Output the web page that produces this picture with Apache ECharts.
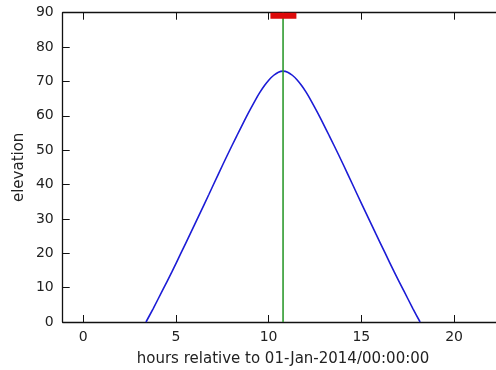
<!DOCTYPE html>
<html><head><meta charset="utf-8">
<script src="https://cdn.jsdelivr.net/npm/echarts@6/dist/echarts.min.js"></script>
<style>html,body{margin:0;padding:0;background:#fff}#c{width:496px;height:370px}</style>
</head><body><div id="c"></div>
<script>
// Sun elevation vs hours
var hours = [3.39, 3.78, 4.28, 4.78, 5.28, 5.78, 6.28, 6.78, 7.28, 7.78, 8.28, 8.78, 9.28, 9.53, 9.78, 10.03, 10.28, 10.53, 10.78,
             11.03, 11.28, 11.53, 11.78, 12.03, 12.28, 12.78, 13.28, 13.78, 14.28, 14.78, 15.28, 15.78, 16.28, 16.78, 17.28, 17.78, 18.17];
var elevation = [0, 3.9, 9.2, 14.5, 20.1, 25.7, 31.4, 37.1, 42.9, 48.6, 54.1, 59.5, 64.5, 66.8, 68.8, 70.5, 71.8, 72.7, 73.0,
                 72.7, 71.8, 70.5, 68.8, 66.8, 64.5, 59.5, 54.1, 48.6, 42.9, 37.1, 31.4, 25.7, 20.1, 14.5, 9.2, 3.9, 0];
var noonX = [10.78, 10.78];
var noonY = [0, 90];
var barX = [10.1, 11.5];
var barY = [89.1, 89.1];
var xTicks = [0, 5, 10, 15, 20];
var xMin = -1.1, xMax = 22.66;
var yMin = 0, yMax = 90, yStep = 10;
var xTitle = 'hours relative to 01-Jan-2014/00:00:00';
var yTitle = 'elevation';

function pairs(xs, ys) { return xs.map(function (x, i) { return [x, ys[i]]; }); }

var font = 'DejaVu Sans';
var axisLine = { show: true, onZero: false, lineStyle: { color: '#111', width: 1.3 } };
var tick = { show: true, inside: true, length: 7, lineStyle: { color: '#111', width: 1 } };

var chart = echarts.init(document.getElementById('c'), null, { renderer: 'canvas' });
chart.setOption({
  animation: false,
  backgroundColor: '#fff',
  grid: { left: 62.7, top: 12.7, width: 440.7, height: 309.3, containLabel: false, outerBoundsMode: 'none' },
  xAxis: [{
    type: 'value', min: xMin, max: xMax, position: 'bottom',
    axisLine: axisLine,
    axisTick: Object.assign({ customValues: xTicks }, tick),
    axisLabel: { customValues: xTicks, color: '#222', fontFamily: font, fontSize: 14, margin: 8 },
    splitLine: { show: false },
    name: xTitle, nameLocation: 'middle', nameGap: 30, nameMoveOverlap: false,
    nameTextStyle: { color: '#222', fontFamily: font, fontSize: 15 }
  }, {
    type: 'value', min: xMin, max: xMax, position: 'top',
    axisLine: axisLine,
    axisTick: Object.assign({ customValues: xTicks }, tick),
    axisLabel: { show: false },
    splitLine: { show: false }
  }],
  yAxis: [{
    type: 'value', min: yMin, max: yMax, interval: yStep,
    axisLine: axisLine,
    axisTick: tick,
    axisLabel: { color: '#222', fontFamily: font, fontSize: 14, margin: 9 },
    splitLine: { show: false },
    name: yTitle, nameLocation: 'middle', nameGap: 36, nameRotate: 90, nameMoveOverlap: false,
    nameTextStyle: { color: '#222', fontFamily: font, fontSize: 15 }
  }],
  series: [{
    type: 'line', data: pairs(hours, elevation), showSymbol: false, symbol: 'none',
    lineStyle: { color: '#1c1cd6', width: 1.6 }, smooth: 0.2, z: 2
  }, {
    type: 'line', data: pairs(noonX, noonY), showSymbol: false, symbol: 'none',
    lineStyle: { color: '#2f9a2f', width: 1.6 }, z: 3
  }, {
    type: 'line', data: pairs(barX, barY), showSymbol: false, symbol: 'none',
    lineStyle: { color: '#dd0a0a', width: 6, cap: 'butt' }, z: 4
  }]
});
</script></body></html>
